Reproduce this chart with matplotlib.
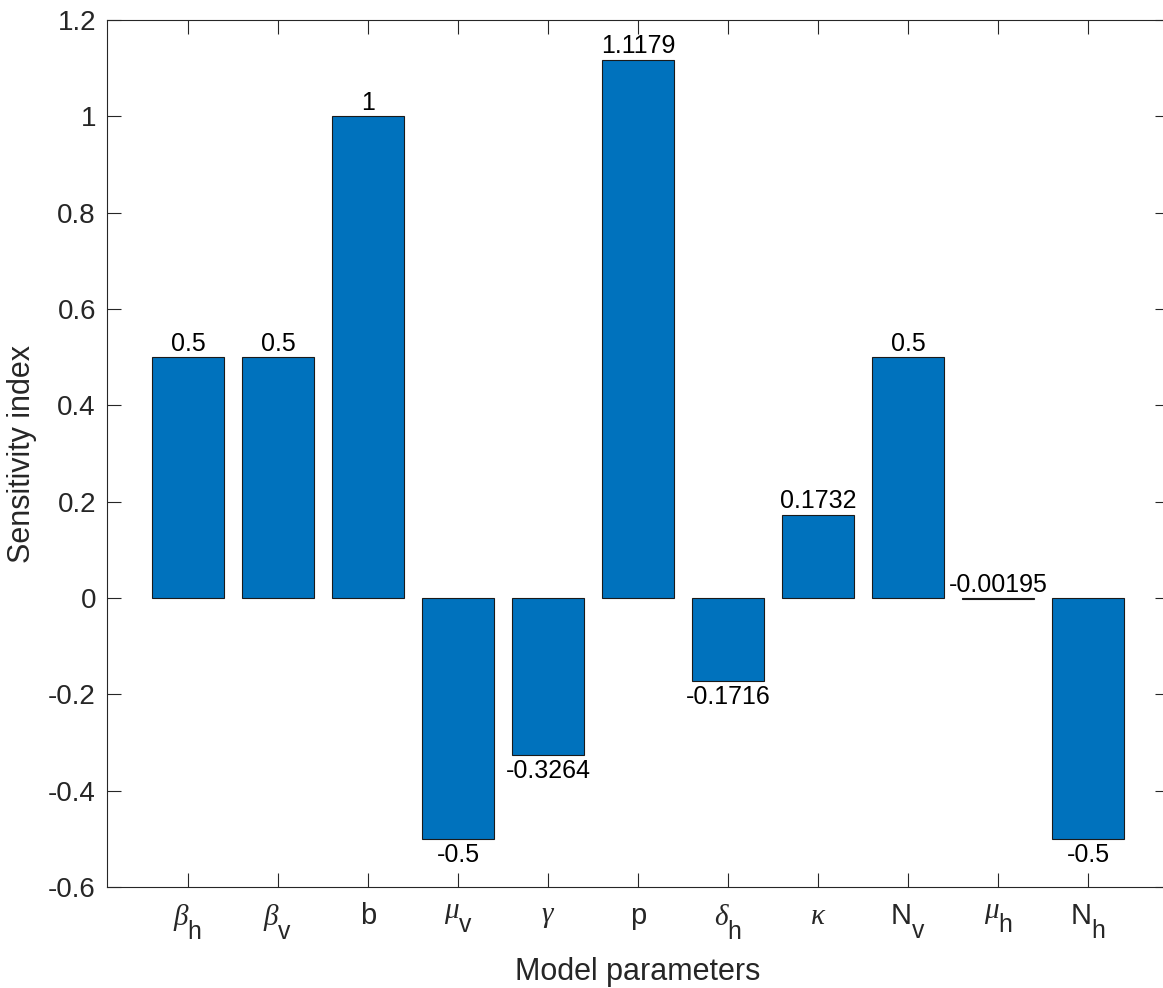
import matplotlib
matplotlib.use("Agg")
import matplotlib.pyplot as plt
import matplotlib._mathtext as mathtext_internal
import numpy as np

# ------ data ------
param_labels = [r'$\beta_\mathrm{h}$', r'$\beta_\mathrm{v}$', 'b', r'$\mu_\mathrm{v}$',
                r'$\gamma$', 'p', r'$\delta_\mathrm{h}$', r'$\kappa$',
                r'$\mathrm{N}_\mathrm{v}$', r'$\mu_\mathrm{h}$', r'$\mathrm{N}_\mathrm{h}$']
sens_values = [0.5, 0.5, 1, -0.5, -0.3264, 1.1179, -0.1716, 0.1732, 0.5, -0.00195, -0.5]
value_texts = ['0.5', '0.5', '1', '-0.5', '-0.3264', '1.1179', '-0.1716', '0.1732',
               '0.5', '-0.00195', '-0.5']
y_ticks = [-0.6, -0.4, -0.2, 0, 0.2, 0.4, 0.6, 0.8, 1, 1.2]
y_tick_labels = ['-0.6', '-0.4', '-0.2', '0', '0.2', '0.4', '0.6', '0.8', '1', '1.2']


def main():
    plt.rcParams['font.family'] = ['Liberation Sans', 'DejaVu Sans']
    plt.rcParams['mathtext.fontset'] = 'custom'
    plt.rcParams['mathtext.rm'] = 'Liberation Sans'
    plt.rcParams['mathtext.it'] = 'Liberation Serif:italic'
    plt.rcParams['axes.unicode_minus'] = False

    # MATLAB-style subscripts: bigger and dropped lower than mathtext default
    try:
        mathtext_internal.SHRINK_FACTOR = 0.85
        mathtext_internal.FontConstantsBase.sub1 = 1.0
        mathtext_internal.FontConstantsBase.sub2 = 1.0
    except AttributeError:
        pass

    fig = plt.figure(figsize=(11.63, 9.88), dpi=100)
    ax = fig.add_axes([107 / 1163, 101 / 988, 1062 / 1163, 867 / 988])

    x = np.arange(1, len(sens_values) + 1)
    ax.bar(x, sens_values, width=0.8, color='#0072BD', edgecolor='#1a1a1a',
           linewidth=0.8, zorder=2)

    for xi, val, txt in zip(x, sens_values, value_texts):
        if val >= -0.01:
            ax.text(xi, max(val, 0) + 0.003, txt, ha='center', va='bottom',
                    fontsize=18, color='black')
        else:
            ax.text(xi, val - 0.008, txt, ha='center', va='top',
                    fontsize=18, color='black')

    ax.set_xlim(0.1, 11.9)
    ax.set_ylim(-0.6, 1.2)
    ax.set_xticks(x)
    ax.set_xticklabels(param_labels, fontsize=21, va='top')
    ax.set_yticks(y_ticks)
    ax.set_yticklabels(y_tick_labels, fontsize=20)

    ax.tick_params(direction='in', length=10, width=0.8, color='#262626',
                   labelcolor='#262626', top=True, right=True)
    ax.tick_params(axis='x', pad=11)
    ax.tick_params(axis='y', pad=8)
    for sp in ax.spines.values():
        sp.set_color('#262626')
        sp.set_linewidth(0.8)

    ax.set_xlabel('Model parameters', fontsize=22, color='#262626', labelpad=11)
    ax.set_ylabel('Sensitivity index', fontsize=22, color='#262626', labelpad=8)

    fig.savefig('out.png', dpi=100)


if __name__ == "__main__":
    main()
